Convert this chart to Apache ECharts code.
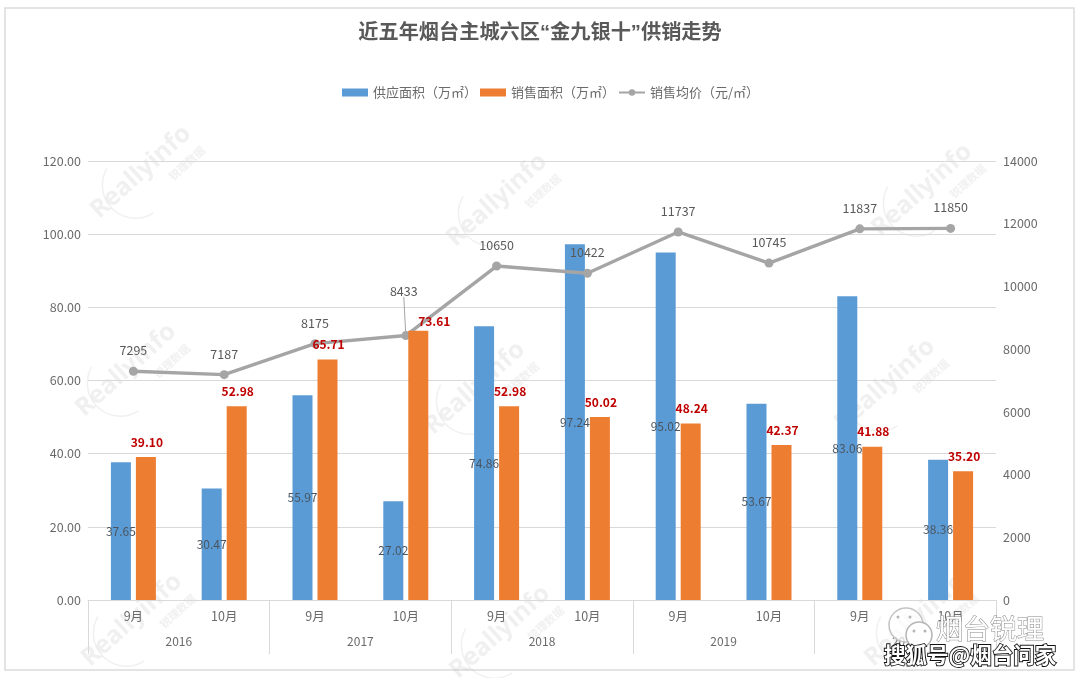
<!DOCTYPE html>
<html><head><meta charset="utf-8">
<style>html,body{margin:0;padding:0;background:#fff}#c{width:1080px;height:678px}</style>
<script src="https://cdn.jsdelivr.net/npm/echarts@6/dist/echarts.min.js"></script>
</head><body><div id="c"></div>
<script>
var months = ['9月','10月','9月','10月','9月','10月','9月','10月','9月','10月'];
var years = ['2016','2017','2018','2019','2020'];
var supply = [37.65,30.47,55.97,27.02,74.86,97.24,95.02,53.67,83.06,38.36];
var sales = [39.10,52.98,65.71,73.61,52.98,50.02,48.24,42.37,41.88,35.20];
var price = [7295,7187,8175,8433,10650,10422,11737,10745,11837,11850];
var FONT = '"Noto Sans CJK SC","Noto Sans",sans-serif';
var GREY = '#6a6a6a';
var WM = 'rgba(165,165,165,0.17)';

var marks = [[141,172],[497,200],[922,190],[126,370],[475,388],[885,385],[132,620],[500,632],[915,620]];
var graphic = [{type:'rect',shape:{x:5,y:8,width:1069,height:662},style:{fill:'none',stroke:'#dcdcdc',lineWidth:1.5},z:0}];
marks.forEach(function(m){
  graphic.push({type:'group',x:m[0],y:m[1],rotation:Math.PI*42/180,z:0,silent:true,children:[
    {type:'text',style:{x:0,y:0,text:'Reallyinfo',align:'center',verticalAlign:'middle',font:'bold 25px "Open Sans",sans-serif',fill:WM}},
    {type:'text',style:{x:40,y:24,text:'锐理数据',align:'center',verticalAlign:'middle',font:'bold 11px '+FONT,fill:WM}},
    {type:'arc',shape:{cx:-13,cy:6,r:33,startAngle:Math.PI*0.55,endAngle:Math.PI*1.4},style:{fill:'none',stroke:WM,lineWidth:1.5}}
  ]});
});
graphic.push(
  {type:'circle',shape:{cx:906,cy:625,r:17},style:{fill:'rgba(255,255,255,0.7)',stroke:'#c4c4c4',lineWidth:1.5},z:100},
  {type:'circle',shape:{cx:919,cy:635,r:13},style:{fill:'#fff',stroke:'#b5b5b5',lineWidth:1.5},z:100},
  {type:'circle',shape:{cx:898,cy:617,r:1.5},style:{fill:'#b5b5b5'},z:100},
  {type:'circle',shape:{cx:910,cy:617,r:1.5},style:{fill:'#b5b5b5'},z:100},
  {type:'circle',shape:{cx:914,cy:631,r:1.5},style:{fill:'#b5b5b5'},z:100},
  {type:'circle',shape:{cx:925,cy:631,r:1.5},style:{fill:'#b5b5b5'},z:100},
  {type:'text',style:{x:936,y:629,text:'烟台锐理',align:'left',verticalAlign:'middle',font:'27px '+FONT,fill:'#fff',stroke:'#8a8a8a',lineWidth:1},z:100},
  {type:'text',style:{x:884,y:655,text:'搜狐号@烟台问家',align:'left',verticalAlign:'middle',font:'bold 21.5px '+FONT,fill:'#fff',stroke:'#111',lineWidth:1.8},z:100}
);

var chart = echarts.init(document.getElementById('c'),null,{renderer:'canvas'});
chart.setOption({
  animation:false,
  backgroundColor:'#fff',
  textStyle:{fontFamily:FONT},
  title:{text:'近五年烟台主城六区“金九银十”供销走势',left:'center',top:18,itemGap:0,
    textStyle:{fontSize:20.2,fontWeight:'bold',color:'#595959',fontFamily:'"Liberation Sans","Noto Sans CJK SC",sans-serif'}},
  legend:{top:81,left:337,itemWidth:26,itemHeight:8,itemGap:3,
    textStyle:{fontSize:13,color:'#6a6a6a',fontFamily:FONT},
    data:[{name:'供应面积（万㎡）',icon:'rect'},{name:'销售面积（万㎡）',icon:'rect'},{name:'销售均价（元/㎡）'}]},
  grid:{left:88,right:84,top:161,bottom:78},
  graphic:graphic,
  xAxis:[
    {type:'category',data:months,position:'bottom',
      axisLine:{lineStyle:{color:'#d9d9d9'}},axisTick:{show:false},
      axisLabel:{color:GREY,fontSize:12.5,margin:10,interval:0}},
    {type:'category',data:years,position:'bottom',
      axisLine:{show:false},axisTick:{show:true,length:54,lineStyle:{color:'#d9d9d9'}},
      axisLabel:{color:GREY,fontSize:12,margin:35,interval:0},splitLine:{show:false}}
  ],
  yAxis:[
    {type:'value',min:0,max:120,interval:20,
      axisLine:{show:false},axisTick:{show:false},
      axisLabel:{color:GREY,fontSize:12.5,margin:7,formatter:function(v){return v.toFixed(2);}},
      splitLine:{lineStyle:{color:'#d9d9d9',width:1.2}}},
    {type:'value',min:0,max:14000,interval:2000,position:'right',
      axisLine:{show:false},axisTick:{show:false},
      axisLabel:{color:GREY,fontSize:12.5,margin:7,formatter:function(v){return String(v);}},splitLine:{show:false}}
  ],
  series:[
    {name:'供应面积（万㎡）',type:'bar',data:supply,barWidth:20,barGap:'25%',z:2,
      itemStyle:{color:'#5b9bd5'},
      label:{show:true,position:'inside',color:'#4a5560',fontSize:12,formatter:function(p){return p.value.toFixed(2);}}},
    {name:'销售面积（万㎡）',type:'bar',data:sales,barWidth:20,z:4,
      itemStyle:{color:'#ed7d31'},
      label:{show:true,position:'top',distance:9,color:'#c00000',fontWeight:'bold',fontSize:12,formatter:function(p){return p.value.toFixed(2);}},
      labelLayout:function(p){return p.dataIndex===3?{dx:16,dy:6,hideOverlap:false}:{dx:1,hideOverlap:false};}},
    {name:'销售均价（元/㎡）',type:'line',yAxisIndex:1,z:3,
      data:price.map(function(v,i){return {value:v,labelLine:{show:i===3,lineStyle:{color:'#a5a5a5',width:1}}};}),
      symbol:'circle',symbolSize:9,
      lineStyle:{color:'#a5a5a5',width:3.4},itemStyle:{color:'#a5a5a5'},
      label:{show:true,position:'top',distance:10,color:'#595959',fontSize:12.5},
      labelLayout:function(p){return p.dataIndex===3?{dx:-2,dy:-24,hideOverlap:false}:{hideOverlap:false};}}
  ]
});
</script></body></html>
